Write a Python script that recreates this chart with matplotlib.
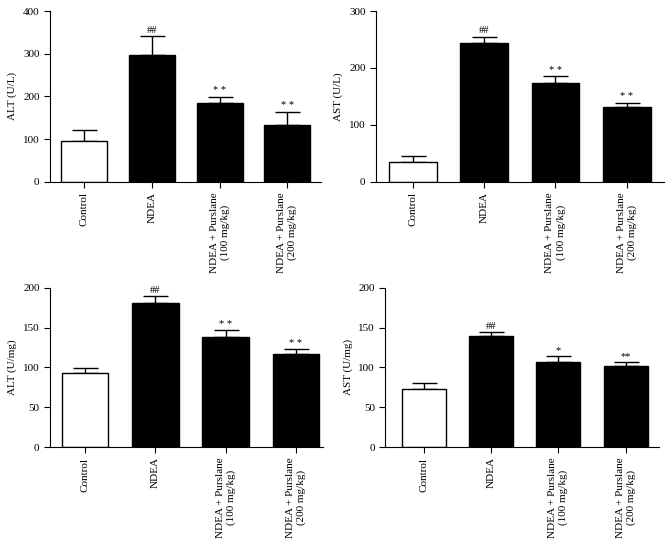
import numpy as np
import matplotlib.pyplot as plt

plt.rc('font', family='Liberation Serif', size=8)

groups = ['Control', 'NDEA', 'NDEA + Purslane\n(100 mg/kg)', 'NDEA + Purslane\n(200 mg/kg)']
colors = ['white', 'black', 'black', 'black']

alt_serum = [95, 298, 184, 133]
alt_serum_err = [26, 43, 15, 31]
ast_serum = [35, 244, 174, 131]
ast_serum_err = [11, 11, 12, 8]
alt_tissue = [93.5, 181, 138.5, 117]
alt_tissue_err = [6, 8, 8.5, 5.5]
ast_tissue = [72.5, 139, 106.5, 101.5]
ast_tissue_err = [7.5, 5, 7.5, 5]

marks_alt_serum = ['', '##', '* *', '* *']
marks_ast_serum = ['', '##', '* *', '* *']
marks_alt_tissue = ['', '##', '* *', '* *']
marks_ast_tissue = ['', '##', '*', '**']

fig = plt.figure(figsize=(6.72, 5.45), dpi=100)

panels = [
    # rect, values, errors, marks, ylabel, ymax, step, xlim, width
    ([0.0744, 0.6666, 0.4036, 0.3132], alt_serum, alt_serum_err, marks_alt_serum,
     'ALT (U/L)', 400, 100, (-0.51, 3.5), 0.68),
    ([0.5595, 0.6666, 0.4285, 0.3132], ast_serum, ast_serum_err, marks_ast_serum,
     'AST (U/L)', 300, 100, (-0.515, 3.52), 0.67),
    ([0.0744, 0.1798, 0.4056, 0.2923], alt_tissue, alt_tissue_err, marks_alt_tissue,
     'ALT (U/mg)', 200, 50, (-0.5, 3.38), 0.66),
    ([0.5734, 0.1798, 0.4068, 0.2923], ast_tissue, ast_tissue_err, marks_ast_tissue,
     'AST (U/mg)', 200, 50, (-0.57, 3.49), 0.65),
]

for rect, vals, errs, marks, ylab, ymax, step, xl, w in panels:
    ax = fig.add_axes(rect)
    x = np.arange(len(groups))
    ax.bar(x, vals, width=w, color=colors, edgecolor='black', linewidth=1, zorder=2)
    ax.errorbar(x, vals, yerr=[np.zeros(len(vals)), errs], fmt='none',
                ecolor='black', elinewidth=1, capsize=9, capthick=1, zorder=1)
    for xi, v, e, m in zip(x, vals, errs, marks):
        if m:
            ax.text(xi, v + e + ymax * 0.008, m, ha='center', va='bottom', fontsize=7.5)
    ax.set_xlim(*xl)
    ax.set_ylim(0, ymax)
    ax.set_yticks(np.arange(0, ymax + 1, step))
    ax.set_xticks(x)
    ax.set_xticklabels(groups, rotation=90, va='top', ha='center', multialignment='center')
    ax.set_ylabel(ylab)
    ax.spines['top'].set_visible(False)
    ax.spines['right'].set_visible(False)
    ax.tick_params(direction='out', length=4, width=0.8)

plt.savefig('out.png', dpi=100)
plt.close()
